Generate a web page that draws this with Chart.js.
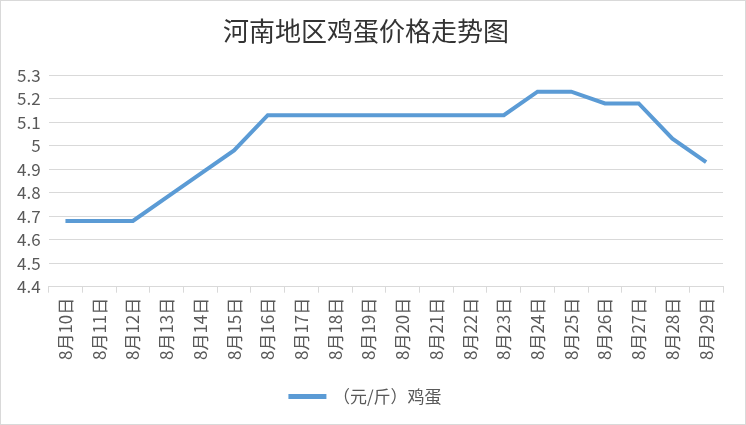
<!DOCTYPE html>
<html>
<head>
<meta charset="utf-8">
<script src="https://cdn.jsdelivr.net/npm/chart.js@4"></script>
<style>
  body { margin: 0; background: #fff; }
  #wrap { width: 746px; height: 425px; box-sizing: border-box; border: 1px solid #d9d9d9; }
</style>
</head>
<body>
<div id="wrap"><canvas id="eggChart" width="744" height="423"></canvas></div>
<script>
    const days = ['8月10日', '8月11日', '8月12日', '8月13日', '8月14日', '8月15日', '8月16日',
        '8月17日', '8月18日', '8月19日', '8月20日', '8月21日', '8月22日', '8月23日',
        '8月24日', '8月25日', '8月26日', '8月27日', '8月28日', '8月29日'];
    const eggPrice = [4.68, 4.68, 4.68, 4.78, 4.88, 4.98, 5.13,
        5.13, 5.13, 5.13, 5.13, 5.13, 5.13, 5.13,
        5.23, 5.23, 5.18, 5.18, 5.03, 4.93];
    const yMin = 4.4;
    const yMax = 5.3;
    const yStep = 0.1;

    const font = "'Noto Sans CJK SC', 'Noto Sans', sans-serif";
    const ctx = document.getElementById('eggChart').getContext('2d');

    new Chart(ctx, {
        type: 'line',
        data: {
            labels: days,
            datasets: [{
                label: '（元/斤）鸡蛋',
                data: eggPrice,
                borderColor: '#5b9bd5',
                backgroundColor: '#5b9bd5',
                borderWidth: 4,
                pointRadius: 0,
                tension: 0
            }]
        },
        options: {
            responsive: false,
            animation: false,
            devicePixelRatio: 1,
            layout: { padding: { left: 8, right: 22, top: 0, bottom: 9 } },
            plugins: {
                title: {
                    display: true,
                    text: '河南地区鸡蛋价格走势图',
                    color: '#333333',
                    font: { family: font, size: 26, weight: 'normal' },
                    padding: { top: 15, bottom: 28 }
                },
                legend: {
                    position: 'bottom',
                    labels: {
                        color: '#595959',
                        font: { family: font, size: 17 },
                        boxWidth: 34,
                        boxHeight: 1,
                        padding: 23
                    }
                },
                tooltip: { enabled: false }
            },
            scales: {
                x: {
                    offset: true,
                    grid: {
                        offset: true,
                        drawOnChartArea: false,
                        color: '#d9d9d9',
                        tickLength: 6
                    },
                    border: { display: true, color: '#d9d9d9' },
                    ticks: {
                        color: '#595959',
                        font: { family: font, size: 17 },
                        minRotation: 90,
                        maxRotation: 90,
                        autoSkip: false,
                        padding: 5
                    }
                },
                y: {
                    min: yMin,
                    max: yMax,
                    grid: { color: '#d9d9d9', drawTicks: false },
                    border: { display: false },
                    ticks: {
                        stepSize: yStep,
                        color: '#595959',
                        font: { family: font, size: 17 },
                        padding: 8,
                        callback: v => String(+v.toFixed(1))
                    }
                }
            }
        }
    });
</script>
</body>
</html>
